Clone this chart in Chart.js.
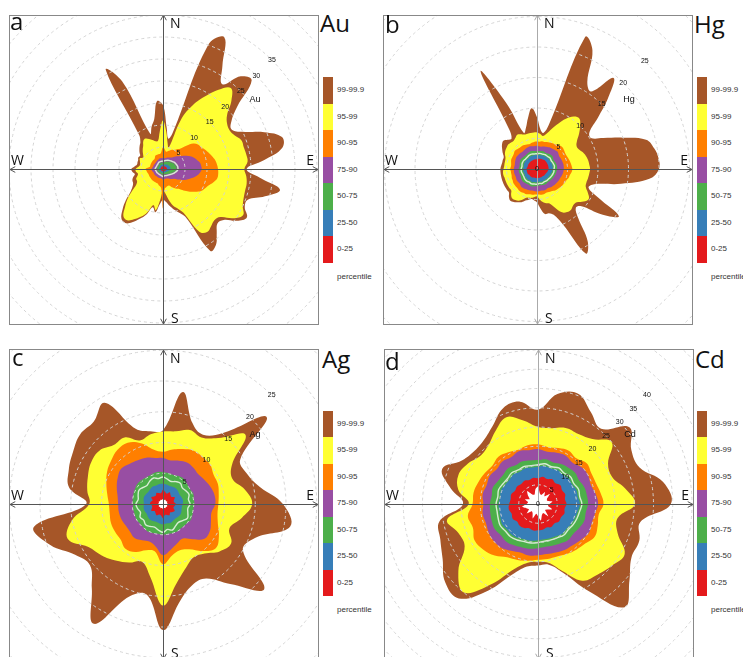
<!DOCTYPE html>
<html>
<head>
<meta charset="utf-8">
<title>Percentile rose diagrams</title>
<script src="https://cdn.jsdelivr.net/npm/chart.js@4.4.1/dist/chart.umd.min.js"></script>
<style>
  html, body { margin: 0; padding: 0; background: #fff; }
  #page { position: relative; width: 743px; height: 657px; overflow: hidden; font-family: "Open Sans", sans-serif; }
  .box { position: absolute; width: 310px; height: 310px; border: 1px solid #888; box-sizing: border-box; overflow: hidden; background: #fff; }
  .box canvas { position: absolute; }
  .big { position: absolute; font-size: 24px; line-height: 24px; color: #111; white-space: nowrap; }
  .bar { position: absolute; width: 10px; }
  .lab { position: absolute; font: 8px "Liberation Sans", Arial, sans-serif; color: #333; white-space: nowrap; }
</style>
</head>
<body>
<div id="page"></div>
<script>
// directions clockwise from north: every 5 degrees (a, b) and every 10 degrees (c, d)
const directions5 = ['0', '5', '10', '15', '20', '25', '30', '35', '40', '45', '50', '55',
  '60', '65', '70', '75', '80', '85', '90', '95', '100', '105', '110', '115',
  '120', '125', '130', '135', '140', '145', '150', '155', '160', '165', '170', '175',
  '180', '185', '190', '195', '200', '205', '210', '215', '220', '225', '230', '235',
  '240', '245', '250', '255', '260', '265', '270', '275', '280', '285', '290', '295',
  '300', '305', '310', '315', '320', '325', '330', '335', '340', '345', '350', '355'];
const directions10 = ['0', '10', '20', '30', '40', '50', '60', '70', '80', '90', '100', '110',
  '120', '130', '140', '150', '160', '170', '180', '190', '200', '210', '220', '230',
  '240', '250', '260', '270', '280', '290', '300', '310', '320', '330', '340', '350'];

const percentileLabels = ['99-99.9', '95-99', '90-95', '75-90', '50-75', '25-50', '0-25'];
const percentileColors = ['#A65628', '#FFFF33', '#FF7F00', '#984EA3', '#4DAF4A', '#377EB8', '#E41A1C'];

// ---- a: Au (5 degree steps) ----
const auBrown = [14.5, 9.5, 7, 8.5, 30, 33, 27, 23.5, 27.5, 28.5, 22, 19,
  18, 20, 24.5, 28, 27.5, 23, 19, 22, 27, 24, 20.5, 20.5,
  22, 20.5, 18, 17.5, 19, 21, 21.5, 12, 10.5, 9.5, 8.5, 7.5,
  7, 8, 10, 9, 11, 12.5, 14, 15, 14.7, 13, 11, 9,
  8, 7.5, 7.4, 7, 6.5, 7, 7.2, 6.5, 6, 6, 6, 6.2,
  6, 6.5, 7, 7.5, 8, 9.5, 26, 22, 8.5, 10, 11.5, 15.5];
const auYellow = [11, 8.5, 6, 5, 12, 16, 19, 22, 24, 22, 19, 17.8,
  17.5, 18, 19, 19, 19.2, 19.3, 18.5, 19, 19.3, 19.3, 19.5, 20,
  21, 19.5, 17, 16.5, 17, 17.5, 16.5, 11, 9.5, 8.5, 7, 5.5,
  5, 7, 9.5, 8.5, 10.5, 12, 13.2, 14.2, 14, 12.2, 10.5, 8.5,
  7, 6.5, 6.5, 6, 5.8, 6.2, 6.2, 5.6, 5.3, 5.4, 5.6, 5.8,
  5.2, 5.5, 6, 6.5, 7, 7.8, 8, 7.5, 7, 6.5, 6.5, 8.5];
const auOrange = [5, 4.5, 4, 4.2, 4.5, 4.8, 5, 5.5, 6, 7.5, 9, 9.7,
  10, 10.5, 11, 11.5, 12, 12.3, 12.5, 12.6, 12.5, 11.8, 11, 10.5,
  10, 9, 8, 7, 6, 5.5, 5, 4.5, 4, 4, 4.2, 4.5,
  9, 4.5, 4, 3.8, 3.5, 3.5, 3.5, 3.5, 3.5, 3.5, 3.5, 3.5,
  3.5, 3.5, 3.5, 3.6, 3.7, 3.8, 4, 3.5, 3, 3, 3, 3,
  3, 3, 3, 3, 3, 3.2, 3.5, 3.5, 3.5, 3.5, 3.5, 4];
const auPurple = [2.5, 2.5, 2.5, 2.6, 2.8, 2.9, 3, 3.2, 3.5, 4, 4.5, 5.2,
  6, 6.8, 7.5, 8, 8.5, 8.7, 8.8, 8.5, 8, 7.3, 6.5, 5.8,
  5, 4.2, 3.5, 3.2, 3, 2.8, 2.5, 2.4, 2.3, 2.3, 2.3, 2.4,
  2.5, 2.3, 2.2, 2.2, 2.2, 2.2, 2.2, 2.2, 2.2, 2.2, 2.3, 2.3,
  2.3, 2.3, 2.3, 2.4, 2.5, 2.6, 2.6, 2.5, 2.4, 2.3, 2.3, 2.3,
  2.2, 2.2, 2.2, 2.2, 2.3, 2.3, 2.4, 2.4, 2.5, 2.5, 2.5, 2.5];
const auGreen = [1.5, 1.55, 1.6, 1.7, 1.8, 1.9, 2, 2.1, 2.2, 2.3, 2.4, 2.55,
  2.7, 2.8, 2.9, 3, 3.1, 3.1, 3.1, 3, 2.8, 2.6, 2.4, 2.2,
  2, 1.85, 1.7, 1.6, 1.5, 1.45, 1.4, 1.35, 1.3, 1.3, 1.3, 1.35,
  1.4, 1.35, 1.3, 1.25, 1.2, 1.2, 1.2, 1.2, 1.2, 1.2, 1.2, 1.25,
  1.3, 1.3, 1.3, 1.35, 1.4, 1.45, 1.5, 1.45, 1.4, 1.35, 1.3, 1.3,
  1.3, 1.3, 1.3, 1.35, 1.4, 1.45, 1.5, 1.5, 1.5, 1.5, 1.5, 1.5];
const auMedian = [1.8, 1.85, 1.9, 2, 2.1, 2.2, 2.3, 2.4, 2.5, 2.6, 2.7, 2.85,
  3, 3.1, 3.2, 3.3, 3.4, 3.4, 3.4, 3.3, 3.1, 2.9, 2.7, 2.5,
  2.3, 2.15, 2, 1.9, 1.8, 1.75, 1.7, 1.65, 1.6, 1.6, 1.6, 1.65,
  1.7, 1.65, 1.6, 1.55, 1.5, 1.5, 1.5, 1.5, 1.5, 1.5, 1.5, 1.55,
  1.6, 1.6, 1.6, 1.65, 1.7, 1.75, 1.8, 1.75, 1.7, 1.65, 1.6, 1.6,
  1.6, 1.6, 1.6, 1.65, 1.7, 1.75, 1.8, 1.8, 1.8, 1.8, 1.8, 1.8];
const auBlue = [1, 1, 1, 1.05, 1.1, 1.15, 1.2, 1.25, 1.3, 1.35, 1.4, 1.45,
  1.5, 1.55, 1.6, 1.65, 1.7, 1.7, 1.7, 1.6, 1.5, 1.4, 1.3, 1.2,
  1.1, 1.05, 1, 0.95, 0.9, 0.9, 0.9, 0.9, 0.9, 0.9, 0.9, 0.9,
  0.9, 0.9, 0.9, 0.9, 0.85, 0.8, 0.8, 0.8, 0.8, 0.8, 0.8, 0.8,
  0.9, 0.9, 0.9, 0.9, 0.9, 0.95, 1, 0.95, 0.9, 0.9, 0.9, 0.9,
  0.9, 0.9, 0.9, 0.9, 1, 1, 1, 1, 1, 1, 1, 1];
const auRed = [0.6, 0.6, 0.6, 0.65, 0.7, 0.7, 0.7, 0.7, 0.7, 0.75, 0.8, 0.8,
  0.8, 0.85, 0.9, 0.9, 0.9, 0.9, 0.9, 0.85, 0.8, 0.75, 0.7, 0.7,
  0.7, 0.65, 0.6, 0.6, 0.6, 0.6, 0.6, 0.55, 0.5, 0.5, 0.5, 0.55,
  0.6, 0.55, 0.5, 0.5, 0.5, 0.5, 0.5, 0.5, 0.5, 0.5, 0.5, 0.5,
  0.5, 0.5, 0.5, 0.55, 0.6, 0.6, 0.6, 0.6, 0.6, 0.55, 0.5, 0.5,
  0.5, 0.5, 0.5, 0.55, 0.6, 0.6, 0.6, 0.6, 0.6, 0.6, 0.6, 0.6];
const auTicks = [5, 10, 15, 20, 25, 30, 35];

// ---- b: Hg (5 degree steps) ----
const hgBrown = [8.5, 6.5, 6, 7.5, 23, 21.5, 16.5, 15.5, 19.5, 16.5, 13, 10.5,
  10.2, 12, 15, 18.5, 19.5, 20, 20, 18.5, 14, 9.7, 9, 11,
  15.5, 13, 9.5, 9, 10.5, 14.5, 16, 10, 8, 7.5, 7.5, 6.5,
  5.5, 5.2, 5, 5.2, 5.5, 6, 6.3, 6.6, 6.8, 6.5, 6, 6,
  6, 6, 6, 6, 6, 6, 6, 5.9, 5.8, 5.8, 5.8, 6.2,
  6.6, 7, 7.2, 6.8, 6.5, 8, 18.5, 12, 6.3, 7, 8.5, 10];
const hgYellow = [6, 5.8, 5.5, 6, 7, 8.2, 9.5, 10.5, 10.8, 10, 9, 8,
  7.5, 7.6, 8, 8.3, 8.5, 8.6, 8.7, 8.6, 8.5, 8.4, 8.5, 9.2,
  9.8, 9.3, 8.5, 8.4, 8.7, 8.6, 8.2, 7, 6, 5.8, 5.5, 5,
  4.5, 4.6, 4.8, 4.9, 5, 5.5, 6, 6.2, 6.3, 6, 5.5, 5.5,
  5.5, 5.5, 5.5, 5.5, 5.6, 5.6, 5.5, 5.4, 5.4, 5.4, 5.5, 5.8,
  6, 6.1, 6.2, 6.1, 6, 6.2, 6.5, 6.3, 6, 6, 6, 6];
const hgOrange = [4.5, 4.5, 4.6, 4.6, 4.7, 4.8, 4.9, 5, 5.2, 5.4, 5.5, 5.4,
  5.3, 5.3, 5.4, 5.5, 5.6, 5.7, 5.8, 5.7, 5.5, 5.4, 5.2, 5.1,
  5, 4.9, 4.8, 4.7, 4.6, 4.4, 4.3, 4.2, 4.2, 4.3, 4.3, 4.2,
  4.2, 4.2, 4.3, 4.3, 4.4, 4.5, 4.5, 4.6, 4.6, 4.5, 4.5, 4.5,
  4.5, 4.4, 4.4, 4.3, 4.3, 4.3, 4.4, 4.3, 4.3, 4.4, 4.5, 4.5,
  4.5, 4.6, 4.7, 4.6, 4.5, 4.5, 4.5, 4.4, 4.3, 4.3, 4.4, 4.5];
const hgPurple = [3.8, 3.75, 3.7, 3.8, 3.9, 4, 4.1, 4.15, 4.2, 4.3, 4.4, 4.3,
  4.2, 4.25, 4.3, 4.35, 4.4, 4.4, 4.4, 4.35, 4.3, 4.2, 4.1, 4.05,
  4, 3.95, 3.9, 3.85, 3.8, 3.7, 3.6, 3.65, 3.7, 3.65, 3.6, 3.65,
  3.7, 3.65, 3.6, 3.65, 3.7, 3.75, 3.8, 3.85, 3.9, 3.8, 3.7, 3.75,
  3.8, 3.75, 3.7, 3.75, 3.8, 3.8, 3.8, 3.75, 3.7, 3.75, 3.8, 3.85,
  3.9, 3.85, 3.8, 3.75, 3.7, 3.75, 3.8, 3.85, 3.9, 3.85, 3.8, 3.8];
const hgGreen = [2.9, 2.95, 3, 3.05, 3.1, 3.05, 3, 3.1, 3.2, 3.25, 3.3, 3.2,
  3.1, 3.15, 3.2, 3.25, 3.3, 3.3, 3.3, 3.25, 3.2, 3.15, 3.1, 3.05,
  3, 2.95, 2.9, 2.85, 2.8, 2.85, 2.9, 2.85, 2.8, 2.75, 2.7, 2.75,
  2.8, 2.85, 2.9, 2.95, 3, 2.95, 2.9, 2.95, 3, 3.05, 3.1, 3.05,
  3, 2.95, 2.9, 2.95, 3, 3, 3, 2.95, 2.9, 2.95, 3, 3.05,
  3.1, 3.05, 3, 2.95, 2.9, 2.95, 3, 3.05, 3.1, 3.05, 3, 2.95];
const hgMedian = [2.5, 2.55, 2.6, 2.6, 2.6, 2.65, 2.7, 2.7, 2.7, 2.75, 2.8, 2.75,
  2.7, 2.75, 2.8, 2.85, 2.9, 2.85, 2.8, 2.8, 2.8, 2.75, 2.7, 2.65,
  2.6, 2.55, 2.5, 2.5, 2.5, 2.45, 2.4, 2.45, 2.5, 2.45, 2.4, 2.45,
  2.5, 2.5, 2.5, 2.55, 2.6, 2.55, 2.5, 2.55, 2.6, 2.6, 2.6, 2.55,
  2.5, 2.5, 2.5, 2.55, 2.6, 2.6, 2.6, 2.55, 2.5, 2.55, 2.6, 2.6,
  2.6, 2.55, 2.5, 2.5, 2.5, 2.55, 2.6, 2.6, 2.6, 2.55, 2.5, 2.5];
const hgBlue = [2.3, 2.3, 2.3, 2.35, 2.4, 2.4, 2.4, 2.45, 2.5, 2.5, 2.5, 2.5,
  2.5, 2.55, 2.6, 2.6, 2.6, 2.6, 2.6, 2.55, 2.5, 2.45, 2.4, 2.35,
  2.3, 2.3, 2.3, 2.25, 2.2, 2.2, 2.2, 2.2, 2.2, 2.15, 2.1, 2.15,
  2.2, 2.2, 2.2, 2.2, 2.3, 2.25, 2.2, 2.25, 2.3, 2.3, 2.3, 2.3,
  2.3, 2.25, 2.2, 2.25, 2.3, 2.3, 2.3, 2.25, 2.2, 2.25, 2.3, 2.3,
  2.3, 2.3, 2.3, 2.25, 2.2, 2.25, 2.3, 2.3, 2.3, 2.3, 2.3, 2.3];
const hgRed = [1.6, 1.65, 1.7, 1.75, 1.8, 1.8, 1.8, 1.85, 1.9, 1.9, 1.9, 1.9,
  1.9, 1.9, 1.9, 1.9, 1.9, 1.9, 1.9, 1.85, 1.8, 1.75, 1.7, 1.65,
  1.6, 1.6, 1.6, 1.55, 1.5, 1.5, 1.5, 1.5, 1.5, 1.5, 1.5, 1.5,
  1.5, 1.5, 1.5, 1.5, 1.5, 1.55, 1.6, 1.6, 1.6, 1.6, 1.6, 1.6,
  1.7, 1.7, 1.7, 1.7, 1.7, 1.7, 1.7, 1.7, 1.6, 1.6, 1.6, 1.6,
  1.6, 1.6, 1.6, 1.6, 1.6, 1.6, 1.6, 1.6, 1.6, 1.6, 1.6, 1.6];
const hgTicks = [0, 5, 10, 15, 20, 25];

// ---- c: Ag (10 degree steps) ----
const agBrown = [12, 18.5, 14, 13, 15, 22, 14.5, 14.5, 16, 19.5, 21, 16, 15, 21.5, 17, 14, 14, 16, 20.5, 15, 16, 22.5, 18, 15.5, 16.5, 19.5, 21.3, 12.5, 15.5, 16.3, 16.9, 17.6, 17.5, 19, 13, 12];
const agYellow = [11.8, 12, 12.8, 12.5, 14, 17.5, 13, 12, 13.5, 14.5, 13, 11.5, 12.8, 12, 10.5, 10, 11, 13, 16.5, 12, 10, 11, 12, 13, 14, 16.5, 15, 12, 12.5, 13, 13.5, 13.5, 12.5, 12.5, 11, 11.5];
const agOrange = [8.5, 9, 9.5, 10, 10, 10, 9.5, 9.5, 9.2, 9, 9, 9.5, 10.5, 11.2, 10, 8.5, 8, 8.5, 9.8, 7.8, 8, 9, 9.5, 9, 9, 9, 8.8, 8.8, 9.2, 9.8, 10.5, 11, 11.5, 11.5, 10.5, 9];
const agPurple = [7.5, 7.2, 7.5, 7.8, 7.7, 7.5, 7.8, 8.2, 8.5, 8.5, 8, 8.3, 8.8, 8.8, 7.5, 6.5, 6.8, 7.5, 8.3, 7, 6.5, 6.8, 7.2, 7, 7, 7.2, 7.3, 7.3, 7.5, 8, 8.5, 8.9, 8.5, 8.2, 8, 7.6];
const agGreen = [5.2, 5.1, 5, 5.2, 5.3, 5.1, 5, 5.2, 5.1, 5.1, 5, 5.1, 5.2, 5, 4.9, 5, 5, 4.9, 5, 4.9, 5, 5.1, 5, 4.9, 5, 4.9, 4.9, 4.9, 5, 5.1, 5.2, 5.3, 5.2, 5.1, 5.2, 5.3];
const agMedian = [4.4, 4.1, 3.9, 4.2, 4.4, 4.1, 4.3, 4.5, 4.2, 4.4, 4.1, 4.3, 4.6, 4.2, 3.9, 4.1, 4.5, 4.2, 4.6, 4.3, 4, 4.2, 4.4, 4.1, 4.3, 3.9, 4.2, 4.4, 4.1, 4.3, 4.5, 4.2, 4, 4.3, 4.5, 4.2];
const agBlue = [3.3, 3.2, 3.1, 3.2, 3.3, 3.2, 3.1, 3.2, 3.3, 3.2, 3.1, 3.2, 3.3, 3.2, 3.1, 3.2, 3.3, 3.2, 3.3, 3.2, 3.1, 3.2, 3.3, 3.2, 3.1, 3.2, 3.2, 3.1, 3.2, 3.3, 3.2, 3.1, 3.2, 3.3, 3.2, 3.3];
const agRed = [2.3, 2, 1.8, 2.2, 1.9, 1.8, 2.2, 1.9, 1.8, 2.1, 1.9, 1.8, 2.2, 2, 1.8, 2.1, 1.9, 1.8, 2.3, 1.9, 1.8, 2.1, 1.9, 1.8, 2.2, 1.9, 1.8, 2.1, 2, 1.8, 2.2, 1.9, 1.8, 2.1, 1.9, 1.8];
const agHole = [0.8, 0.7, 0.7, 0.8, 0.7, 0.7, 0.8, 0.7, 0.7, 0.8, 0.7, 0.7, 0.8, 0.7, 0.7, 0.8, 0.7, 0.7, 0.8, 0.7, 0.7, 0.8, 0.7, 0.7, 0.8, 0.7, 0.7, 0.8, 0.7, 0.7, 0.8, 0.7, 0.7, 0.8, 0.7, 0.7];
const agTicks = [5, 10, 15, 20, 25];

// ---- d: Cd (10 degree steps) ----
const cdBrown = [24.5, 29, 30.5, 27.5, 25.5, 31, 28, 28, 33, 34.5, 27, 28, 28, 31, 35, 26, 19, 16, 16, 16.5, 19.5, 26, 32, 31.5, 28.6, 27, 26, 19.5, 23, 26.5, 22.7, 21.5, 21.8, 23.5, 26.5, 27];
const cdYellow = [20, 20, 21, 21, 22, 25, 21, 20.5, 23, 25.2, 21, 22, 26, 25, 24, 23, 18.5, 15.5, 15, 15.5, 18, 24, 30, 27, 22, 22, 24, 18, 21, 22, 21, 19.5, 20, 22, 24, 22];
const cdOrange = [15.5, 15, 15.5, 16, 15.5, 16.5, 16, 16, 16.5, 17, 16, 16.5, 17, 16, 15.5, 15, 14.5, 14.5, 14.5, 15, 15.5, 16, 17.5, 18.5, 19, 18, 18.5, 17, 17, 16.5, 16, 15.5, 16, 15.5, 15, 15.5];
const cdPurple = [14.3, 13.8, 14.2, 14.5, 14, 14.8, 15, 14.6, 15.2, 15.6, 15, 14.8, 15.2, 14.5, 14, 13.8, 13.4, 13.2, 13.3, 13.6, 13.4, 14, 14.8, 15, 14.8, 14.4, 14.6, 14.2, 14.6, 14.2, 14.5, 14, 14.4, 14, 14.6, 14.2];
const cdGreen = [11.4, 11.8, 11.5, 12, 12.3, 12.6, 12.3, 12.8, 12.9, 13, 12.6, 12.8, 12.4, 12, 12.2, 11.8, 11.5, 11.3, 11.5, 11.8, 12, 12.4, 12.8, 12.6, 13, 12.8, 12.6, 12.5, 12.2, 12.5, 12, 11.8, 12.1, 11.6, 11.8, 11.5];
const cdMedian = [10.2, 10.6, 10.3, 10.8, 10.5, 11, 10.7, 11.2, 11, 11.4, 11, 10.8, 10.6, 10.3, 10.5, 10.1, 9.9, 9.8, 10, 10.3, 10.4, 10.8, 11.1, 11, 11.3, 11, 10.8, 10.9, 10.6, 10.9, 10.5, 10.3, 10.6, 10.2, 10.4, 10.1];
const cdBlue = [9.7, 10, 9.8, 10.2, 10, 10.4, 10.2, 10.6, 10.5, 10.9, 10.5, 10.3, 10.1, 9.8, 10, 9.6, 9.4, 9.3, 9.4, 9.7, 9.8, 10.2, 10.5, 10.4, 10.7, 10.4, 10.2, 10.3, 10, 10.3, 9.9, 9.7, 10, 9.6, 9.8, 9.6];
const cdRed = [6.7, 7.2, 6.9, 7.4, 7, 7.6, 7.2, 7.5, 7.1, 7.4, 7, 7.3, 6.9, 7.1, 6.6, 6.9, 6.5, 6.8, 6.8, 7, 6.7, 7.2, 7.4, 7.1, 7.6, 7.3, 7.7, 7.5, 7.2, 7.4, 6.9, 7.1, 6.8, 7, 6.6, 6.9];
const cdHole = [4.6, 2.8, 2.5, 3.6, 2.6, 4, 2.7, 2.5, 3.8, 3, 2.6, 3.9, 2.8, 2.4, 4.2, 2.7, 3, 4.4, 3.2, 2.6, 4, 2.8, 2.5, 3.8, 2.7, 3.2, 4.2, 3, 2.6, 3.6, 2.5, 3.4, 4.4, 2.8, 2.6, 3.9];
const cdTicks = [0, 5, 10, 15, 20, 25, 30, 35, 40];

// layout of the four panels (page pixels)
const panels = [
  { letter: 'a', element: 'Au', labels: directions5, box: [9, 15], c: [163, 169], R: 220, max: 50, nsColor: '#555', ticks: auTicks,
    letterPos: [10, 9], titlePos: [320, 11], legend: [323, 77, 186],
    bands: [auBrown, auYellow, auOrange, auPurple, auGreen, auBlue, auRed], median: auMedian, hole: null },
  { letter: 'b', element: 'Hg', labels: directions5, box: [383, 15], c: [537, 169], R: 244, max: 40, nsColor: '#aaa', ticks: hgTicks,
    letterPos: [385, 12], titlePos: [694, 12], legend: [697, 77, 186],
    bands: [hgBrown, hgYellow, hgOrange, hgPurple, hgGreen, hgBlue, hgRed], median: hgMedian, hole: null },
  { letter: 'c', element: 'Ag', labels: directions10, box: [9, 349], c: [163, 504], R: 246, max: 40, nsColor: '#555', ticks: agTicks,
    letterPos: [12, 345], titlePos: [322, 347], legend: [323, 411, 185],
    bands: [agBrown, agYellow, agOrange, agPurple, agGreen, agBlue, agRed], median: agMedian, hole: agHole },
  { letter: 'd', element: 'Cd', labels: directions10, box: [384, 349], c: [538, 504], R: 231, max: 60, nsColor: '#aaa', ticks: cdTicks,
    letterPos: [385, 349], titlePos: [695, 347], legend: [697, 411, 185],
    bands: [cdBrown, cdYellow, cdOrange, cdPurple, cdGreen, cdBlue, cdRed], median: cdMedian, hole: cdHole }
];

// dashed rings over the fills, compass axes, ring labels
const overlay = {
  id: 'overlay',
  afterDatasetsDraw(chart, args, o) {
    const r = chart.scales.r;
    const ctx = chart.ctx;
    const cx = r.xCenter, cy = r.yCenter;
    ctx.save();

    ctx.strokeStyle = '#d4d4d4';
    ctx.lineWidth = 1;
    ctx.setLineDash([3, 3]);
    for (let v = 5; v <= r.max; v += 5) {
      ctx.beginPath();
      ctx.arc(cx, cy, r.getDistanceFromCenterForValue(v), 0, Math.PI * 2);
      ctx.stroke();
    }
    ctx.setLineDash([]);

    const arrow = (x1, y1, x2, y2, color) => {
      ctx.strokeStyle = color;
      ctx.beginPath();
      ctx.moveTo(x1, y1); ctx.lineTo(x2, y2);
      ctx.stroke();
      [[x1, y1, x2, y2], [x2, y2, x1, y1]].forEach(([ax, ay, bx, by]) => {
        const a = Math.atan2(ay - by, ax - bx);
        ctx.beginPath();
        ctx.moveTo(ax - 6 * Math.cos(a - 0.5), ay - 6 * Math.sin(a - 0.5));
        ctx.lineTo(ax, ay);
        ctx.lineTo(ax - 6 * Math.cos(a + 0.5), ay - 6 * Math.sin(a + 0.5));
        ctx.stroke();
      });
    };
    arrow(cx + 0.5, cy - 154, cx + 0.5, cy + 155, o.nsColor);
    arrow(cx - 153, cy + 0.5, cx + 155, cy + 0.5, '#555');

    ctx.fillStyle = '#111';
    ctx.font = '14px "Open Sans"';
    ctx.textBaseline = 'alphabetic';
    ctx.textAlign = 'left';
    ctx.fillText('N', cx + 7, cy - 141);
    ctx.fillText('S', cx + 8, cy + 154);
    ctx.fillText('W', cx - 152, cy - 4);
    ctx.textAlign = 'right';
    ctx.fillText('E', cx + 151, cy - 4);

    ctx.font = '7px "Liberation Sans"';
    ctx.textAlign = 'center';
    ctx.textBaseline = 'middle';
    o.ticks.forEach(v => {
      const d = r.getDistanceFromCenterForValue(v);
      ctx.fillText(String(v), cx + d * Math.SQRT1_2, cy - d * Math.SQRT1_2);
    });
    ctx.font = '9px "Liberation Sans"';
    ctx.fillText(o.element, cx + 92, cy - 69);
    ctx.restore();
  }
};

function datasetsFor(p) {
  const sets = p.bands.map((d, i) => ({
    label: percentileLabels[i],
    data: d,
    backgroundColor: percentileColors[i],
    borderColor: percentileColors[i],
    borderWidth: 0,
    fill: 'origin',
    tension: 0.4,
    order: 10 - i
  }));
  sets.push({ label: 'median', data: p.median, fill: false, borderColor: '#d8ecd4', borderWidth: 1.4, tension: 0.4, order: 1 });
  if (p.hole) {
    sets.push({ label: 'min', data: p.hole, backgroundColor: '#fff', borderColor: '#fff', borderWidth: 0, fill: 'origin', tension: 0.15, order: 0 });
  }
  return sets;
}

const page = document.getElementById('page');

function addText(cls, txt, x, y) {
  const el = document.createElement('div');
  el.className = cls;
  el.textContent = txt;
  el.style.left = x + 'px';
  el.style.top = y + 'px';
  page.appendChild(el);
  return el;
}

panels.forEach(p => {
  const box = document.createElement('div');
  box.className = 'box';
  box.style.left = p.box[0] + 'px';
  box.style.top = p.box[1] + 'px';
  page.appendChild(box);

  const canvas = document.createElement('canvas');
  canvas.width = 2 * p.R;
  canvas.height = 2 * p.R;
  canvas.style.left = (p.c[0] - p.R - p.box[0] - 1) + 'px';
  canvas.style.top = (p.c[1] - p.R - p.box[1] - 1) + 'px';
  box.appendChild(canvas);

  new Chart(canvas.getContext('2d'), {
    type: 'radar',
    data: { labels: p.labels, datasets: datasetsFor(p) },
    options: {
      responsive: false,
      animation: false,
      events: [],
      layout: { padding: 0 },
      elements: { point: { radius: 0, hitRadius: 0 } },
      plugins: {
        legend: { display: false },
        tooltip: { enabled: false },
        overlay: { ticks: p.ticks, element: p.element, nsColor: p.nsColor }
      },
      scales: {
        r: {
          min: 0,
          max: p.max,
          ticks: { display: false, stepSize: 5 },
          grid: { display: false },
          angleLines: { display: false },
          pointLabels: { display: false }
        }
      }
    },
    plugins: [overlay]
  });

  addText('big', p.letter, p.letterPos[0], p.letterPos[1]);
  addText('big', p.element, p.titlePos[0], p.titlePos[1]);

  // percentile colour bar
  const [lx, ly, lh] = p.legend;
  const seg = lh / percentileColors.length;
  percentileColors.forEach((col, i) => {
    const s = document.createElement('div');
    s.className = 'bar';
    s.style.left = lx + 'px';
    s.style.top = (ly + i * seg) + 'px';
    s.style.height = (seg + 0.5) + 'px';
    s.style.background = col;
    page.appendChild(s);
    const t = addText('lab', percentileLabels[i], lx + 14, ly + i * seg);
    t.style.lineHeight = seg + 'px';
  });
  addText('lab', 'percentile', lx + 14, ly + lh + 9);
});
</script>
</body>
</html>
